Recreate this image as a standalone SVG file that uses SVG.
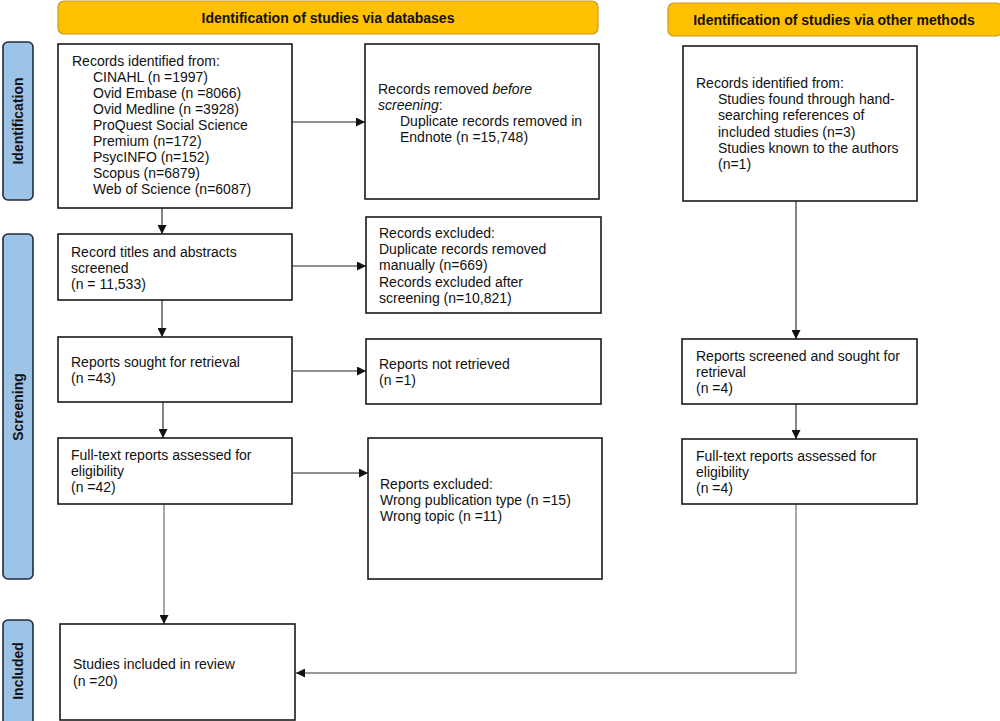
<svg xmlns="http://www.w3.org/2000/svg" width="1000" height="721" viewBox="0 0 1000 721">
<defs>
<style>
.bg{fill:#ffffff}
.box{fill:#ffffff;stroke:#1a1a1a;stroke-width:1.6}
.hdr{fill:#FFC000;stroke:#C99A1E;stroke-width:1.2}
.side{fill:#9DC3E6;stroke:#1F2B3C;stroke-width:1.6}
.t{font-family:"Liberation Sans",Arial,sans-serif;font-size:14px;fill:#111}
.h{font-family:"Liberation Sans",Arial,sans-serif;font-size:14px;font-weight:bold;fill:#111;text-anchor:middle}
.s{font-family:"Liberation Sans",Arial,sans-serif;font-size:14px;font-weight:bold;fill:#111;text-anchor:middle}
.c{fill:none;stroke:#222;stroke-width:1.1}
.g{fill:none;stroke:#777;stroke-width:1.3}
</style>
<marker id="ah" markerUnits="userSpaceOnUse" markerWidth="9" markerHeight="9" viewBox="0 0 10 10" refX="10" refY="5" orient="auto">
<path d="M0,0 L10,5 L0,10 z" fill="#111"/>
</marker>
</defs>
<rect class="bg" x="0" y="0" width="1000" height="721"/>

<g id="header-databases">
<rect class="hdr" x="58" y="1" width="540" height="33" rx="6"/>
<text class="h" x="328" y="23">Identification of studies via databases</text>
</g>
<g id="header-other">
<rect class="hdr" x="668" y="3" width="334" height="33" rx="6"/>
<text class="h" x="834" y="25">Identification of studies via other methods</text>
</g>

<g id="side-identification">
<rect class="side" x="3" y="42" width="30" height="158" rx="5"/>
<text class="s" transform="translate(23,121) rotate(-90)">Identification</text>
</g>
<g id="side-screening">
<rect class="side" x="3" y="234" width="30" height="345" rx="5"/>
<text class="s" transform="translate(23,407) rotate(-90)">Screening</text>
</g>
<g id="side-included">
<rect class="side" x="3" y="620" width="30" height="108" rx="5"/>
<text class="s" transform="translate(23,671) rotate(-90)">Included</text>
</g>

<g id="connectors">
<line class="c" x1="162" y1="208" x2="162" y2="234" marker-end="url(#ah)"/>
<line class="c" x1="162" y1="300" x2="162" y2="337" marker-end="url(#ah)"/>
<line class="c" x1="163" y1="402" x2="163" y2="438" marker-end="url(#ah)"/>
<line class="g" x1="164" y1="504" x2="164" y2="624" marker-end="url(#ah)"/>
<line class="c" x1="292" y1="122" x2="365" y2="122" marker-end="url(#ah)"/>
<line class="c" x1="292" y1="266" x2="366" y2="266" marker-end="url(#ah)"/>
<line class="c" x1="293" y1="371" x2="366" y2="371" marker-end="url(#ah)"/>
<line class="c" x1="293" y1="473" x2="368" y2="473" marker-end="url(#ah)"/>
<line class="c" x1="796" y1="201" x2="796" y2="339" marker-end="url(#ah)"/>
<line class="c" x1="796" y1="404" x2="796" y2="439" marker-end="url(#ah)"/>
<polyline class="g" points="796,504 796,673 296,673" marker-end="url(#ah)"/>
</g>

<g id="records-identified">
<rect class="box" x="58" y="44" width="234" height="164"/>
<text class="t" x="72" y="66">Records identified from:</text>
<text class="t" x="93" y="82">CINAHL (n =1997)</text>
<text class="t" x="93" y="98">Ovid Embase (n =8066)</text>
<text class="t" x="93" y="114">Ovid Medline (n =3928)</text>
<text class="t" x="93" y="130">ProQuest Social Science</text>
<text class="t" x="93" y="146">Premium (n=172)</text>
<text class="t" x="93" y="162">PsycINFO (n=152)</text>
<text class="t" x="93" y="178">Scopus (n=6879)</text>
<text class="t" x="93" y="194">Web of Science (n=6087)</text>
</g>

<g id="records-removed">
<rect class="box" x="365" y="44" width="234" height="155"/>
<text class="t" x="378" y="94">Records removed <tspan font-style="italic">before</tspan></text>
<text class="t" x="378" y="110"><tspan font-style="italic">screening</tspan>:</text>
<text class="t" x="400" y="126">Duplicate records removed in</text>
<text class="t" x="400" y="142">Endnote (n =15,748)</text>
</g>

<g id="titles-screened">
<rect class="box" x="58" y="234" width="234" height="66"/>
<text class="t" x="71" y="257">Record titles and abstracts</text>
<text class="t" x="71" y="273">screened</text>
<text class="t" x="71" y="289">(n = 11,533)</text>
</g>

<g id="records-excluded">
<rect class="box" x="366" y="217" width="235" height="96"/>
<text class="t" x="379" y="238">Records excluded:</text>
<text class="t" x="379" y="254">Duplicate records removed</text>
<text class="t" x="379" y="270">manually (n=669)</text>
<text class="t" x="379" y="287">Records excluded after</text>
<text class="t" x="379" y="303">screening (n=10,821)</text>
</g>

<g id="reports-sought">
<rect class="box" x="58" y="337" width="234" height="65"/>
<text class="t" x="71" y="367">Reports sought for retrieval</text>
<text class="t" x="71" y="383">(n =43)</text>
</g>

<g id="reports-not-retrieved">
<rect class="box" x="366" y="339" width="235" height="65"/>
<text class="t" x="379" y="369">Reports not retrieved</text>
<text class="t" x="379" y="385">(n =1)</text>
</g>

<g id="fulltext-assessed">
<rect class="box" x="58" y="438" width="234" height="66"/>
<text class="t" x="71" y="460">Full-text reports assessed for</text>
<text class="t" x="71" y="476">eligibility</text>
<text class="t" x="71" y="492">(n =42)</text>
</g>

<g id="reports-excluded">
<rect class="box" x="368" y="438" width="234" height="141"/>
<text class="t" x="380" y="489">Reports excluded:</text>
<text class="t" x="380" y="505">Wrong publication type (n =15)</text>
<text class="t" x="380" y="521">Wrong topic (n =11)</text>
</g>

<g id="studies-included">
<rect class="box" x="60" y="624" width="235" height="96"/>
<text class="t" x="73" y="669">Studies included in review</text>
<text class="t" x="73" y="686">(n =20)</text>
</g>

<g id="other-records-identified">
<rect class="box" x="683" y="46" width="234" height="155"/>
<text class="t" x="696" y="88">Records identified from:</text>
<text class="t" x="718" y="104">Studies found through hand-</text>
<text class="t" x="718" y="120">searching references of</text>
<text class="t" x="718" y="137">included studies (n=3)</text>
<text class="t" x="718" y="153">Studies known to the authors</text>
<text class="t" x="718" y="169">(n=1)</text>
</g>

<g id="other-reports-screened">
<rect class="box" x="682" y="339" width="235" height="65"/>
<text class="t" x="696" y="361">Reports screened and sought for</text>
<text class="t" x="696" y="377">retrieval</text>
<text class="t" x="696" y="393">(n =4)</text>
</g>

<g id="other-fulltext-assessed">
<rect class="box" x="682" y="439" width="235" height="65"/>
<text class="t" x="696" y="461">Full-text reports assessed for</text>
<text class="t" x="696" y="477">eligibility</text>
<text class="t" x="696" y="493">(n =4)</text>
</g>
</svg>
